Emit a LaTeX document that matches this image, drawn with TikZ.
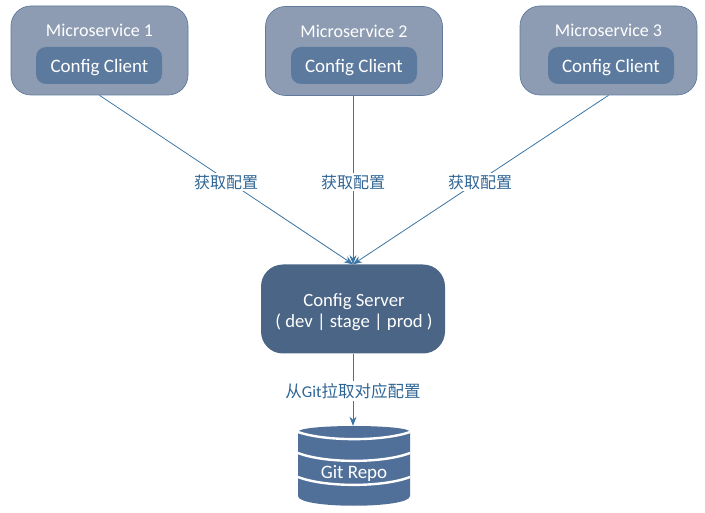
\documentclass[tikz,border=0pt]{standalone}
\usepackage{fontspec}
\setmainfont{Carlito}
\newfontfamily\cjk{Noto Sans CJK SC}
\usetikzlibrary{arrows.meta}
\definecolor{msfill}{HTML}{8E9CB3}
\definecolor{msline}{HTML}{5F7A9C}
\definecolor{inner}{HTML}{5C7A9E}
\definecolor{srv}{HTML}{4A6585}
\definecolor{cyl}{HTML}{517099}
\definecolor{conn}{HTML}{3A75A5}
\definecolor{lab}{HTML}{2F6595}
\tikzset{
 x=1pt,y=-1pt,
 msbox/.style={draw=msline,line width=.7pt,fill=msfill,rounded corners=20pt,minimum width=177pt,minimum height=89pt,inner sep=0pt},
 clientbox/.style={fill=inner,rounded corners=10pt,minimum width=126pt,minimum height=37pt,inner sep=0pt},
 clienttext/.style={text=white,inner sep=0pt,font=\fontsize{19}{21}\selectfont},
 title/.style={text=white,inner sep=0pt,font=\fontsize{18}{20}\selectfont},
 serverbox/.style={fill=srv,rounded corners=22pt,minimum width=184pt,minimum height=89pt,inner sep=0pt},
 srvtext/.style={align=center,text=white,inner sep=0pt,font=\fontsize{18.7}{21}\selectfont},
 link/.style={draw=conn,line width=.8pt},
 tip/.style={-{Stealth[length=9pt,width=7pt]}},
 lbl/.style={fill=white,text=lab,inner sep=2pt,font=\fontsize{16}{20}\selectfont},
 lblb/.style={lbl,font=\fontsize{16.5}{20}\selectfont},
}
\begin{document}
\begin{tikzpicture}
\useasboundingbox (0,0) rectangle (705,513);
\node[msbox] (ms1) at (99.5,50.5) {};
\node[msbox] (ms2) at (354,51) {};
\node[msbox] (ms3) at (608.5,50.5) {};
\node[title] (t1) at (99.5,30.5) {Microservice 1};
\node[title] (t2) at (354,31) {Microservice 2};
\node[title] (t3) at (608.5,30.5) {Microservice 3};
\node[clientbox] (c1) at (99,65.5) {};
\node[clientbox] (c2) at (354,65.5) {};
\node[clientbox] (c3) at (611,65.5) {};
\node[clienttext] (ct1) at (99.5,67.5) {Config Client};
\node[clienttext] (ct2) at (354,67.5) {Config Client};
\node[clienttext] (ct3) at (611,67.5) {Config Client};
\node[serverbox] (srv) at (353,309) {};
\node[srvtext] (st) at (354,312) {Config Server\\( dev | stage | prod )};
% cylinder
\fill[cyl] (298,432) .. controls (298,424) and (410,424) .. (410,432)
  -- (410,496) .. controls (410,509) and (298,509) .. (298,496) -- cycle;
\draw[white,line width=2.4pt] (298,432) .. controls (325,441.5) and (383,441.5) .. (410,432);
\draw[white,line width=2.4pt] (298,453) .. controls (325,463.5) and (383,463.5) .. (410,453);
\draw[white,line width=2.4pt] (298,477) .. controls (325,487.5) and (383,487.5) .. (410,477);
\node[minimum width=112pt,minimum height=80pt,inner sep=0pt] (repo) at (354,466) {};
\node[text=white,inner sep=0pt,font=\fontsize{19}{21}\selectfont] (rt) at (354,473) {Git Repo};
\draw[link,tip] (ms1.south) -- (srv.north);
\draw[link,tip] (srv.north |- ms2.south) -- (srv.north);
\draw[link,tip] (ms3.south) -- (srv.north);
\draw[link,tip] (srv.south) -- (srv.south |- repo.north);
\node[lbl] (l1) at (226,182) {\cjk 获取配置};
\node[lbl] (l2) at (353,182) {\cjk 获取配置};
\node[lbl] (l3) at (480,182) {\cjk 获取配置};
\node[lblb] (l4) at (353,391) {\cjk 从\rmfamily Git\cjk 拉取对应配置};
\end{tikzpicture}
\end{document}
